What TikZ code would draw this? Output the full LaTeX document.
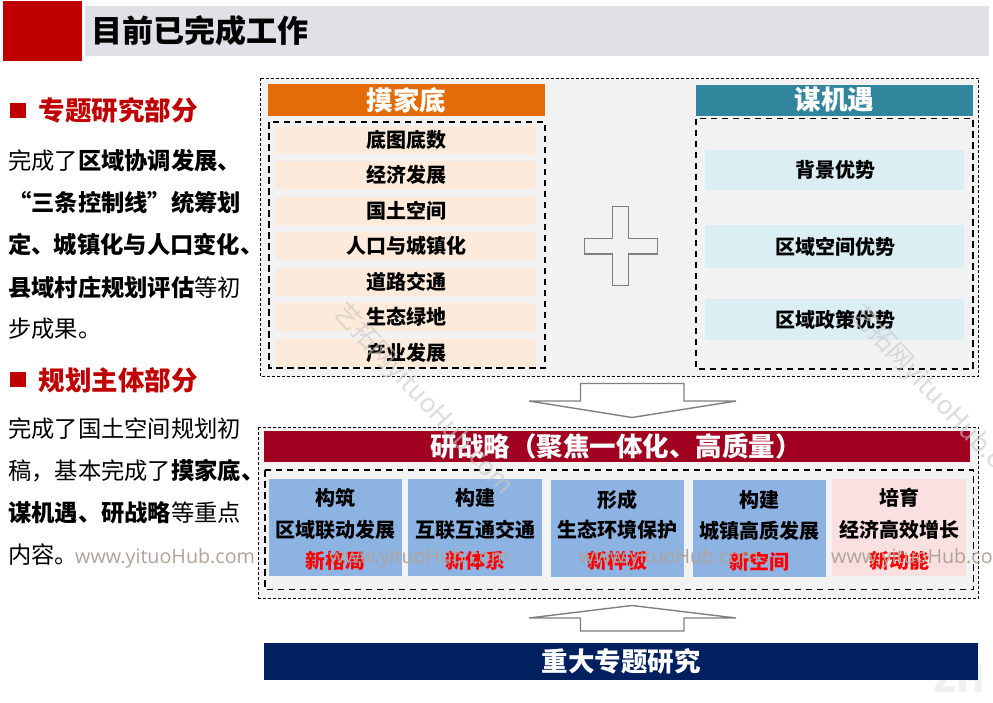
\documentclass[tikz,border=0pt]{standalone}
\usepackage{fontspec}
\setmainfont{Noto Sans CJK SC}
\newfontfamily\wmfont{Open Sans}
\definecolor{redbox}{HTML}{C00000}
\definecolor{titleband}{HTML}{E0E1E6}
\definecolor{panel}{HTML}{F2F2F2}
\definecolor{orangehead}{HTML}{E36C09}
\definecolor{peach}{HTML}{FDEADA}
\definecolor{tealhead}{HTML}{31859C}
\definecolor{paleblue}{HTML}{DAEEF3}
\definecolor{crimson}{HTML}{A10020}
\definecolor{cardblue}{HTML}{8DB3E2}
\definecolor{cardpink}{HTML}{FBE0E1}
\definecolor{navy}{HTML}{002060}
\definecolor{arrowgray}{HTML}{7F7F7F}
\definecolor{wmtext}{HTML}{B0A39A}
\definecolor{wmdiag}{HTML}{C9C7C5}
\newcommand{\fs}[1]{\fontsize{#1}{#1}\selectfont}
\tikzset{
  x=1pt,y=-1pt,
  outerdash/.style={draw=black,fill=panel,line width=0.8pt,dash pattern=on 3pt off 2pt},
  innerdash/.style={draw=black,line width=1.5pt,dash pattern=on 6.5pt off 4.5pt},
  blockarrow/.style={draw=arrowgray,fill=white,line width=1.4pt,line join=miter},
  bodyline/.style={anchor=west,inner sep=0pt,font=\fs{23.3}},
  sechead/.style={anchor=west,inner sep=0pt,font=\fs{26.5}\bfseries,text=redbox},
  cardtxt/.style={inner sep=0pt,font=\fs{20}\bfseries,text=black},
  cardred/.style={inner sep=0pt,font=\fs{20}\bfseries,text=red},
  headtxt/.style={inner sep=0pt,font=\fs{26.5}\bfseries,text=white},
  wmline/.style={inner sep=0pt,font=\wmfont\fs{19.7},text=wmtext},
  wmdiagonal/.style={anchor=west,inner sep=0pt,rotate=-47,font=\fs{26},text=wmdiag,text opacity=0.6},
}
\begin{document}
\begin{tikzpicture}
\useasboundingbox (0,0) rectangle (993,702);
\fill[white] (0,0) rectangle (993,702);
% title
\fill[redbox] (3,1) rectangle (82,61);
\fill[titleband] (85,6) rectangle (989,56);
\node[anchor=west,inner sep=0pt,font=\fs{31}\bfseries] (title) at (91,31) {目前已完成工作};
% left column
\fill[redbox] (10,102.5) rectangle (26,117.5);
\node[sechead] (h1) at (38.5,110.5) {专题研究部分};
\node[bodyline] (l1) at (8,161) {完成了\textbf{区域协调发展、}};
\node[bodyline] (l2) at (8,203) {\textbf{“三条控制线”统筹划}};
\node[bodyline] (l3) at (8,245) {\textbf{定、\hspace{-1pt}城镇化与人口变化、}};
\node[bodyline] (l4) at (8,287) {\textbf{县域村庄规划评估}等初};
\node[bodyline] (l5) at (8,329) {步成果。};
\fill[redbox] (10,372) rectangle (26,387);
\node[sechead] (h2) at (38.5,380) {规划主体部分};
\node[bodyline] (l6) at (8,429) {完成了国土空间规划初};
\node[bodyline] (l7) at (8,471) {稿，基本完成了\textbf{摸家底、}};
\node[bodyline] (l8) at (8,513) {\textbf{谋机遇、研战略}等重点};
\node[bodyline] (l9) at (8,555) {内容。};
% upper panel
\draw[outerdash] (260.5,78) rectangle (978.5,376.5);
\fill[orangehead] (268,84) rectangle (545,116);
\node[headtxt] (mojia) at (406.5,100) {摸家底};
\fill[tealhead] (696,85) rectangle (973,116);
\node[headtxt] (mouji) at (834.5,100) {谋机遇};
\foreach \ya/\yb/\t in {126/154/底图底数,161/189/经济发展,197/225/国土空间,232/260/人口与城镇化,268/296/道路交通,303/331/生态绿地,339/367/产业发展}{
  \fill[peach] (276,\ya) rectangle (536,\yb);
  \node[cardtxt] at (406,{(\ya+\yb)/2}) {\t};
}
\draw[innerdash] (269,122) rectangle (545,368);
\draw[innerdash] (696,118.5) rectangle (973,369);
\foreach \ya/\yb/\t in {150/190/背景优势,225/268/区域空间优势,299/340/区域政策优势}{
  \fill[paleblue] (705,\ya) rectangle (964,\yb);
  \node[cardtxt] at (835,{(\ya+\yb)/2}) {\t};
}
% plus
\draw[draw=arrowgray,fill=panel,line width=1.4pt,line join=miter]
  (612.5,206.5) -- (628.5,206.5) -- (628.5,238.5) -- (657.5,238.5) -- (657.5,254) -- (628.5,254)
  -- (628.5,285.5) -- (612.5,285.5) -- (612.5,254) -- (584.5,254) -- (584.5,238.5) -- (612.5,238.5) -- cycle;
% block arrows
\draw[blockarrow] (580.5,383.5) -- (684,383.5) -- (684,401) -- (736,401) -- (632,417.5) -- (529,401) -- (580.5,401) -- cycle;
\draw[blockarrow] (580.5,631) -- (684,631) -- (684,618) -- (736,618) -- (632,605.5) -- (529,618) -- (580.5,618) -- cycle;
% lower panel
\draw[outerdash] (258.5,427) rectangle (978.5,598);
\fill[crimson] (264,431) rectangle (970,462);
\node[headtxt] (yan) at (616,446) {研战略（聚焦一体化、高质量）};
\draw[innerdash] (265,470) rectangle (973.5,589.5);
\foreach \xa/\xb/\ya/\yb/\fillc/\a/\b/\c/\ta/\tb/\tc in {
  269/402/479/576/cardblue/构筑/区域联动发展/新格局/498/529.5/561,
  408/542/479/576/cardblue/构建/互联互通交通/新体系/498/529.5/561,
  551/684/480/577/cardblue/形成/生态环境保护/新样板/499.5/530/561,
  693/826/480/577/cardblue/构建/城镇高质发展/新空间/500/531/562,
  832/966/479/576/cardpink/培育/经济高效增长/新动能/498/530/561}{
  \fill[\fillc] (\xa,\ya) rectangle (\xb,\yb);
  \node[cardtxt] at ({(\xa+\xb)/2},\ta) {\a};
  \node[cardtxt] at ({(\xa+\xb)/2},\tb) {\b};
  \node[cardred] at ({(\xa+\xb)/2},\tc) {\c};
}
% faint logo, behind the bottom band
\begin{scope}
\clip (0,0) rectangle (993,702);
\node[inner sep=0pt,font=\fs{37}\bfseries,text=black!6,anchor=base east] (logo) at (985,692) {ZH};
\end{scope}
% bottom band
\fill[navy] (264,643) rectangle (978,680);
\node[headtxt] (zhongda) at (621,661) {重大专题研究};
% watermarks
\begin{scope}
\clip (0,0) rectangle (993,702);
\foreach \wx in {75,329,579,831}{
  \node[wmline,anchor=west] at (\wx,558) {www.yituoHub.com};
}
\node[wmdiagonal] at (338,308) {艺拓网yituoHub.com};
\node[wmdiagonal] at (855,310) {艺拓网yituoHub.com};
\end{scope}
\end{tikzpicture}
\end{document}
